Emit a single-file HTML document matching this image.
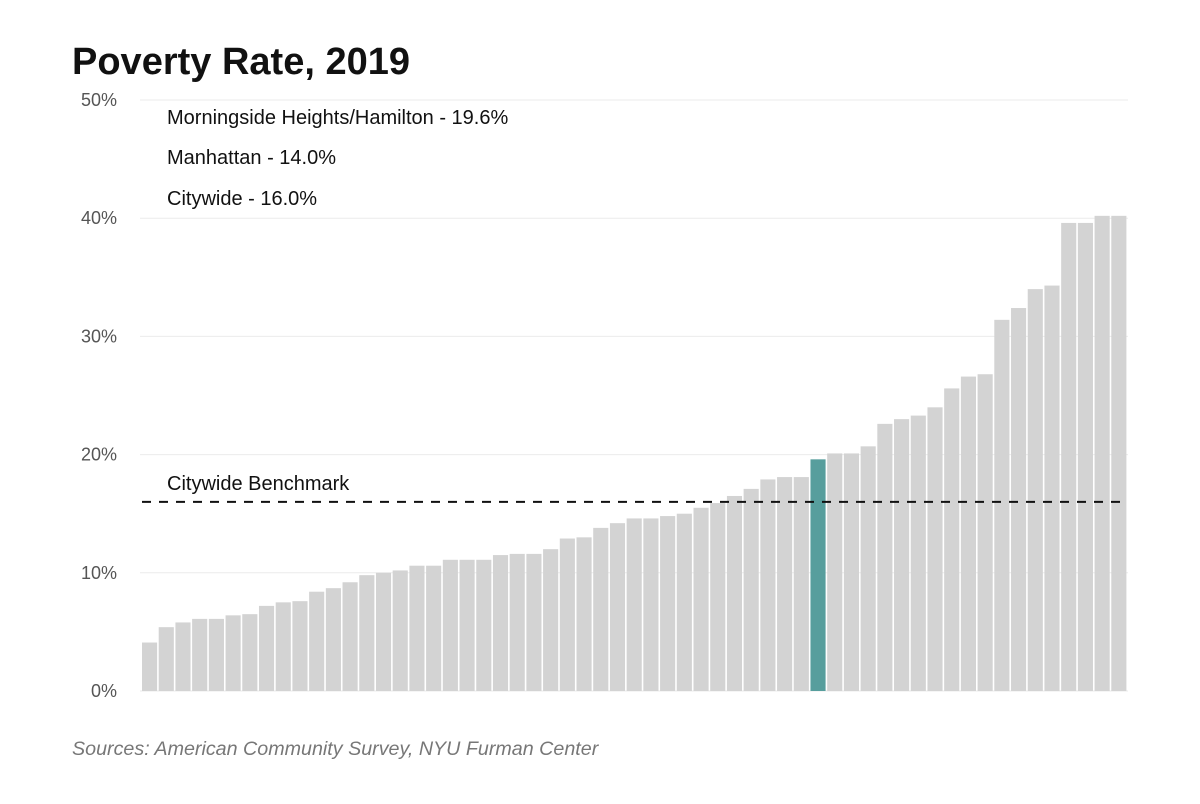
<!DOCTYPE html>
<html><head><meta charset="utf-8"><style>
body{margin:0;background:#fff;width:1200px;height:799px;overflow:hidden;font-family:"Liberation Sans",sans-serif}
</style></head><body>
<svg width="1200" height="799">
<text x="72" y="74" font-size="38" font-weight="bold" fill="#111">Poverty Rate, 2019</text>
<g id="grid"></g>
<g id="bars"></g>
<g id="bench"></g>
<text x="167" y="124" font-size="20" fill="#111">Morningside Heights/Hamilton - 19.6%</text>
<text x="167" y="164" font-size="20" fill="#111">Manhattan - 14.0%</text>
<text x="167" y="205" font-size="20" fill="#111">Citywide - 16.0%</text>
<text x="72" y="755" font-size="19.7" font-style="italic" fill="#777">Sources: American Community Survey, NYU Furman Center</text>
</svg>
<script>
const values=[4.1,5.4,5.8,6.1,6.1,6.4,6.5,7.2,7.5,7.6,8.4,8.7,9.2,9.8,10.0,10.2,10.6,10.6,11.1,11.1,11.1,11.5,11.6,11.6,12.0,12.9,13.0,13.8,14.2,14.6,14.6,14.8,15.0,15.5,15.9,16.5,17.1,17.9,18.1,18.1,19.6,20.1,20.1,20.7,22.6,23.0,23.3,24.0,25.6,26.6,26.8,31.4,32.4,34.0,34.3,39.6,39.6,40.2,40.2];
const highlightIndex=40;
const ticks=[0,10,20,30,40,50];
const tickLabels=["0%","10%","20%","30%","40%","50%"];
const benchmark=16.0;
const NS="http://www.w3.org/2000/svg";
const x0=142,x1=1128,yBase=691,yTop=100;
const y=v=>yBase-(v/50)*(yBase-yTop);
const step=(x1-x0)/values.length;
const grid=document.getElementById('grid');
ticks.forEach((t,i)=>{
 const l=document.createElementNS(NS,'line');
 l.setAttribute('x1',140);l.setAttribute('x2',x1);l.setAttribute('y1',y(t));l.setAttribute('y2',y(t));
 l.setAttribute('stroke','#ebebeb');l.setAttribute('stroke-width','1');
 
 
 grid.appendChild(l);
 const tx=document.createElementNS(NS,'text');
 tx.setAttribute('x',117);tx.setAttribute('y',y(t)+6);tx.setAttribute('text-anchor','end');
 tx.setAttribute('font-size','18');tx.setAttribute('fill','#555');
 tx.textContent=tickLabels[i];
 
 
 grid.appendChild(tx);
});
const bars=document.getElementById('bars');
values.forEach((v,i)=>{
 const r=document.createElementNS(NS,'rect');
 r.setAttribute('x',x0+i*step);r.setAttribute('width',step-1.6);
 r.setAttribute('y',y(v));r.setAttribute('height',yBase-y(v));
 r.setAttribute('fill',i===highlightIndex?'#579e9d':'#d3d3d3');
 
 
 bars.appendChild(r);
});
const b=document.getElementById('bench');
const bl=document.createElementNS(NS,'line');
bl.setAttribute('x1',142);bl.setAttribute('x2',x1);bl.setAttribute('y1',y(benchmark));bl.setAttribute('y2',y(benchmark));
bl.setAttribute('stroke','#111');bl.setAttribute('stroke-width','2');bl.setAttribute('stroke-dasharray','9,8');


b.appendChild(bl);
const bt=document.createElementNS(NS,'text');
bt.setAttribute('x',167);bt.setAttribute('y',y(benchmark)-12);bt.setAttribute('font-size','20');bt.setAttribute('fill','#111');
bt.textContent='Citywide Benchmark';


b.appendChild(bt);
</script>
</body></html>
